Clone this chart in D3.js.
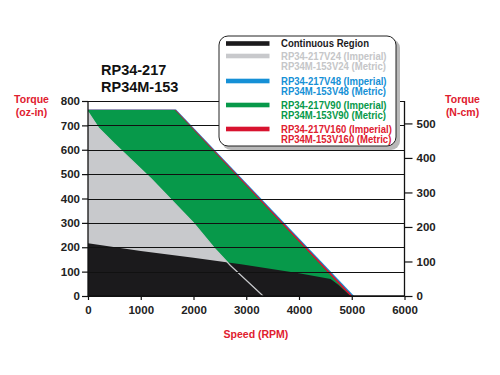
<!DOCTYPE html>
<html><head><meta charset="utf-8">
<script src="https://cdn.jsdelivr.net/npm/d3@7/dist/d3.min.js"></script>
<style>body{margin:0;background:#fff}svg{display:block;font-family:"Liberation Sans",Arial,sans-serif;font-weight:bold}</style>
</head><body><svg id="c" width="500" height="375"></svg>
<script>
// Data (speed RPM, torque oz-in)
const v48 = [[0,765],[1670,765],[5045,0]];
const v160 = [[0,764],[1660,764],[5015,0]];
const v90 = [[0,763],[1648,763],[4968,0]];
const v24 = [[0,756],[200,690],[500,625],[1200,480],[2000,300],[2400,195],[2700,125],[3320,0]];
const continuous = [[0,216],[1000,185],[2000,157],[2900,130],[4000,93],[4600,70],[4750,45],[4975,0]];
const xTicks = [0,1000,2000,3000,4000,5000,6000];
const yTicks = [0,100,200,300,400,500,600,700,800];
const yRTicks = [0,100,200,300,400,500];
const titleLines = ["RP34-217","RP34M-153"];
const legendItems = [
  {lines:["Continuous Region"], color:"#1b1a1c", text:"#1b1a1c"},
  {lines:["RP34-217V24 (Imperial)","RP34M-153V24 (Metric)"], color:"#c8c9cc", text:"#c5c6c8"},
  {lines:["RP34-217V48 (Imperial)","RP34M-153V48 (Metric)"], color:"#1590d6", text:"#1590d6"},
  {lines:["RP34-217V90 (Imperial)","RP34M-153V90 (Metric)"], color:"#07994a", text:"#07994a"},
  {lines:["RP34-217V160 (Imperial)","RP34M-153V160 (Metric)"], color:"#d8132f", text:"#e0202f"}
];
const OZIN_TO_NCM = 0.7062;

const svg = d3.select("#c");
const x = d3.scaleLinear().domain([0,6000]).range([88,404.5]);
const y = d3.scaleLinear().domain([0,800]).range([296,101]);
const yR = d3.scaleLinear().domain([0,800*OZIN_TO_NCM]).range([296,101]);

const area = d3.area().x(d=>x(d[0])).y0(y(0)).y1(d=>y(d[1]));
const line = d3.line().x(d=>x(d[0])).y(d=>y(d[1]));

svg.append("path").attr("d",area(v48)).attr("fill","#1590d6");
svg.append("path").attr("d",area(v160)).attr("fill","#d8132f");
svg.append("path").attr("d",area(v90)).attr("fill","#07994a");
svg.append("path").attr("d",area(v24)).attr("fill","#c8c9cc");
svg.append("path").attr("d",area(continuous)).attr("fill","#1b1a1c");
svg.append("path").attr("d",line(v24)).attr("fill","none").attr("stroke","#c8c9cc").attr("stroke-width",1.2);

// gridlines
svg.append("g").selectAll("line").data(yTicks).join("line")
  .attr("x1",x(0)).attr("x2",x(6000)).attr("y1",d=>Math.round(y(d))+0.5).attr("y2",d=>Math.round(y(d))+0.5)
  .attr("stroke","#111").attr("stroke-width",1.1);

const fmt = d3.format("d");
const gL = svg.append("g").attr("transform",`translate(${x(0)},0)`)
  .call(d3.axisLeft(y).tickValues(yTicks).tickFormat(fmt).tickSize(6).tickPadding(2));
const gB = svg.append("g").attr("transform",`translate(0,${y(0)})`)
  .call(d3.axisBottom(x).tickValues(xTicks).tickFormat(fmt).tickSize(4).tickPadding(6));
const gR = svg.append("g").attr("transform",`translate(${x(6000)},0)`)
  .call(d3.axisRight(yR).tickValues(yRTicks).tickFormat(fmt).tickSize(8).tickPadding(4));
[gL,gB,gR].forEach(g=>{
  g.select(".domain").attr("stroke","#111").attr("stroke-width",1.3);
  g.selectAll(".tick line").attr("stroke","#111").attr("stroke-width",1.2);
  g.selectAll("text").attr("font-family","Liberation Sans, Arial, sans-serif").attr("font-weight","bold")
    .attr("font-size",11.5).attr("fill","#222");
});
gR.select(".domain").attr("d",`M0,${y(0)}V${y(800)}`);
gL.select(".domain").attr("d",`M0,${y(0)}V${y(800)}`);
gB.select(".domain").attr("d",`M${x(0)},0H${x(6000)}`);

// title
svg.append("g").selectAll("text").data(titleLines).join("text")
  .attr("x",101).attr("y",(d,i)=>74.5+i*17).attr("font-size",14.5).attr("fill","#111").text(d=>d);

// axis titles
const red = "#e0202f";
[["Torque",31.5,103],["(oz-in)",31.5,116],["Torque",462.5,103],["(N-cm)",462.5,116]].forEach(t=>{
  svg.append("text").attr("x",t[1]).attr("y",t[2]).attr("text-anchor","middle").attr("font-size",10.5).attr("fill",red).text(t[0]);
});
svg.append("text").attr("x",256).attr("y",337.5).attr("text-anchor","middle").attr("font-size",10.5).attr("fill",red).text("Speed (RPM)");

// legend
const lg = svg.append("g");
lg.append("rect").attr("x",222).attr("y",39).attr("width",178).attr("height",111).attr("rx",9).attr("fill","#b9b9b9");
lg.append("rect").attr("x",219).attr("y",36).attr("width",177).attr("height",110).attr("rx",9).attr("fill","#fff").attr("stroke","#222").attr("stroke-width",1);
const rowY = [43.5,56,81,105,129];
const texts = [];
legendItems.forEach((it,i)=>{
  lg.append("rect").attr("x",226).attr("y",rowY[i]-2.3).attr("width",43.5).attr("height",4.6).attr("fill",it.color);
  it.lines.forEach((l,j)=>{
    texts.push(lg.append("text").attr("x",281).attr("y",rowY[i]+3.6+j*10.3).attr("font-size",10).attr("fill",it.text).text(l));
  });
});
// fit legend text width to the reference scale ("Continuous Region" ≈ 88px)
const ref = texts[0].node().getComputedTextLength();
const k = 88/ref;
texts.forEach(t=>{
  const w = t.node().getComputedTextLength()*k;
  t.attr("textLength",w).attr("lengthAdjust","spacingAndGlyphs");
});
</script></body></html>
